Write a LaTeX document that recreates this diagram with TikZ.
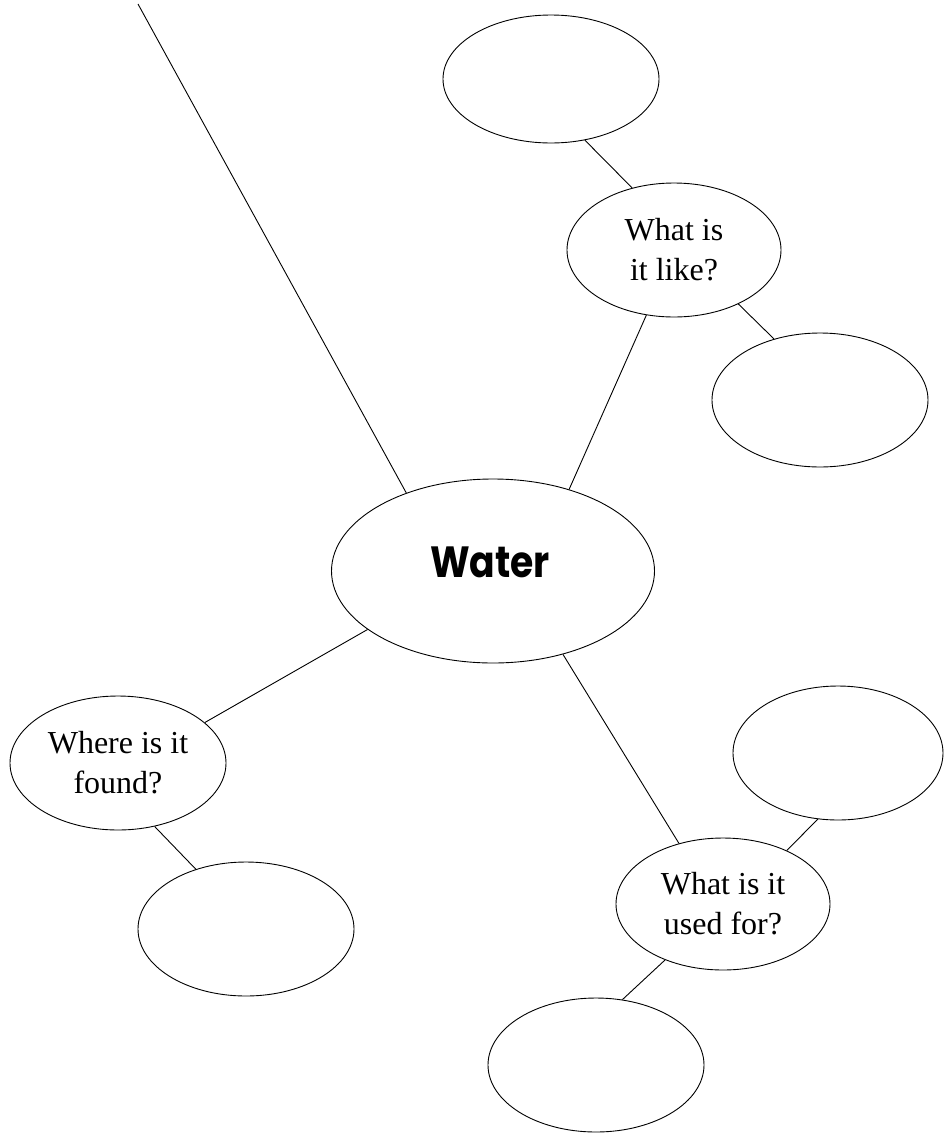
\documentclass[tikz,border=0pt]{standalone}
\usepackage{fontspec}
\setmainfont{Liberation Serif}
\newfontfamily\titlefont{Poppins}
\usetikzlibrary{shapes.geometric}
\begin{document}
\begin{tikzpicture}[x=1pt,y=-1pt,
  bubble/.style={draw, ellipse, inner sep=0pt, line width=0.9pt,
    minimum width=216pt, minimum height=134pt},
  ask/.style={bubble, align=center, font=\fontsize{32}{40}\selectfont},
  title/.style={inner sep=0pt, font=\titlefont\bfseries\fontsize{46}{46}\selectfont},
  link/.style={line width=0.9pt}]
\useasboundingbox (0,0) rectangle (945,1133);

% central topic
\node[bubble, minimum width=323pt, minimum height=184pt] (water) at (493,571) {};
\node[title] (waterlabel) at (490,562) {\scalebox{0.82}[0.95]{Water}};

% question bubbles
\node[ask, minimum width=214pt] (like) at (674,250) {What is\\it like?};
\node[ask] (where) at (118,763) {Where is it\\found?};
\node[ask, minimum width=214pt, minimum height=132pt] (used) at (723,904) {What is it\\used for?};

% empty answer bubbles
\node[bubble, minimum height=128pt] (likeA) at (551,79) {};
\node[bubble] (likeB) at (820,400) {};
\node[bubble] (whereA) at (246,929) {};
\node[bubble, minimum width=210pt] (usedA) at (838,753) {};
\node[bubble] (usedB) at (596,1065) {};

% free branch leaving the picture
\coordinate (open) at (138,4);

% connectors
\draw[link] (water.138.8) -- (open);
\draw[link] (water.47.6) -- (like.247.8);
\draw[link] (water.205.5) -- (where.25.2);
\draw[link] (water.310.3) -- (used.126);
\draw[link] (like.124.9) -- (likeA.-61);
\draw[link] (like.-40.8) -- (likeB.127.2);
\draw[link] (where.-60) -- (whereA.130.3);
\draw[link] (used.40.7) -- (usedA.253.4);
\draw[link] (used.224.6) -- (usedB.68.2);
\end{tikzpicture}
\end{document}
